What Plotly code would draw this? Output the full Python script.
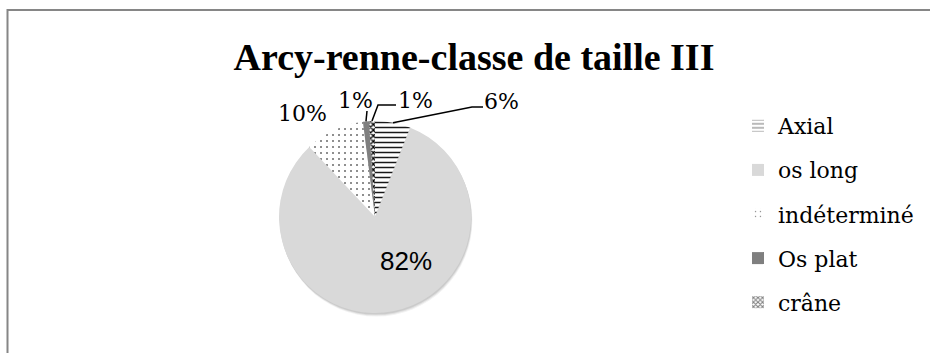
import math
import plotly.graph_objects as go

# Bone-fragment categories and their share of the sample
categories = ["Axial", "os long", "indéterminé", "Os plat", "crâne"]
values = [6, 82, 10, 1, 1]
chart_title = "Arcy-renne-classe de taille III"

W, H = 930, 353
CX, CY, R = 375, 217, 96          # pie centre and radius in pixels

SERIF = "DejaVu Serif"
TITLE_FONT = "Liberation Serif"
SANS = "Liberation Sans"

fills = ["#ffffff", "#d9d9d9", "#ffffff", "#7f7f7f", "#ffffff"]
pat_shape = ["-", "", ".", "", "x"]
pat_fg = ["#1a1a1a", "#d9d9d9", "#000000", "#7f7f7f", "#000000"]
pat_size = [5, 8, 6, 8, 4]
pat_solid = [0.3, 0.3, 0.06, 0.3, 0.55]


def px(x):
    return x / W


def py(y):
    return 1 - y / H


fig = go.Figure()

fig.add_trace(go.Pie(
    labels=categories,
    values=values,
    sort=False,
    direction="clockwise",
    rotation=0,
    marker=dict(colors=fills,
                pattern=dict(shape=pat_shape, fgcolor=pat_fg, bgcolor=fills,
                             size=pat_size, solidity=pat_solid),
                line=dict(width=0)),
    textinfo="none",
    hoverinfo="label+percent",
    showlegend=False,
    domain=dict(x=[px(CX - R), px(CX + R)], y=[py(CY + R), py(CY - R)]),
))

# Legend entries (zero-height bars on hidden axes carry the swatches)
for i, cat in enumerate(categories):
    fig.add_trace(go.Bar(
        x=[0], y=[0], name=cat, legendgroup=cat,
        marker=dict(color=fills[i],
                    pattern=dict(shape=pat_shape[i], fgcolor=pat_fg[i],
                                 bgcolor=fills[i], size=pat_size[i],
                                 solidity=pat_solid[i]),
                    line=dict(width=0)),
        hoverinfo="skip", showlegend=True,
    ))

# Percent labels placed around the pie, leader lines start on the rim
total = sum(values)
label_pos = {
    "Axial": (501, 101),
    "os long": (406, 261),
    "indéterminé": (302, 113),
    "Os plat": (355, 100),
    "crâne": (415, 100),
}
leader_mid = {
    "Axial": [(472, 107), (483, 107)],
    "Os plat": [(367, 111)],
    "crâne": [(378, 105), (396, 105)],
}

annotations = []
shapes = []

# soft drop shadow under the pie
for off, alpha in [(3.5, 0.05), (2.5, 0.07), (1.5, 0.09)]:
    shapes.append(dict(type="circle", xref="paper", yref="paper", layer="below",
                       x0=px(CX - R + off * 0.4), x1=px(CX + R + off * 0.4),
                       y0=py(CY + R + off), y1=py(CY - R + off),
                       fillcolor=f"rgba(0,0,0,{alpha})", line=dict(width=0)))

cum = 0
for cat, v in zip(categories, values):
    mid = (cum + v / 2) / total * 2 * math.pi
    cum += v
    rim = (CX + R * math.sin(mid), CY - R * math.cos(mid))
    text = f"{v / total:.0%}"
    lx, ly = label_pos[cat]
    inside = cat == "os long"
    annotations.append(dict(
        x=px(lx), y=py(ly), xref="paper", yref="paper",
        text=text, showarrow=False, xanchor="center", yanchor="middle",
        font=dict(family=SANS if inside else SERIF, size=26 if inside else 22,
                  color="#000000"),
    ))
    if cat in leader_mid:
        pts = [rim] + leader_mid[cat]
        path = "M " + " L ".join(f"{px(a)},{py(b)}" for a, b in pts)
        shapes.append(dict(type="path", xref="paper", yref="paper", path=path,
                           line=dict(color="#000000", width=1.5)))

# Chart frame
shapes.append(dict(type="rect", xref="paper", yref="paper",
                   x0=px(7.5), x1=1.2, y0=-0.2, y1=py(10),
                   line=dict(color="#868686", width=2), layer="above"))

fig.update_layout(
    width=W, height=H,
    margin=dict(l=0, r=0, t=0, b=0),
    paper_bgcolor="#ffffff",
    plot_bgcolor="rgba(0,0,0,0)",
    title=dict(text=chart_title, x=px(474), xanchor="center",
               y=py(57), yanchor="middle",
               font=dict(family=TITLE_FONT, size=38, color="#000000", weight="bold")),
    xaxis=dict(visible=False, range=[1, 2]),
    yaxis=dict(visible=False, range=[1, 2]),
    showlegend=True,
    legend=dict(x=px(738), y=py(105), xanchor="left", yanchor="top",
                tracegroupgap=12.5, bgcolor="rgba(0,0,0,0)",
                font=dict(family=SERIF, size=22, color="#000000")),
    annotations=annotations,
    shapes=shapes,
)

fig.write_html("out.html")
